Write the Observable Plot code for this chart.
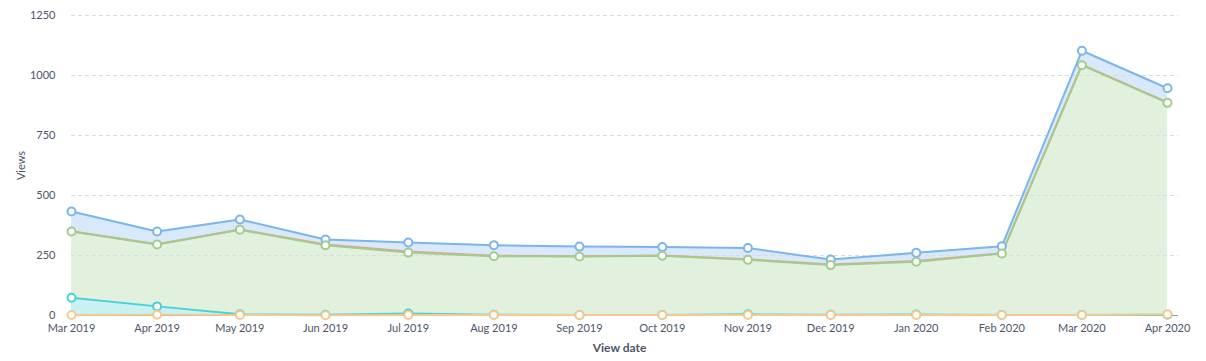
<!DOCTYPE html>
<html>
<head>
<meta charset="utf-8">
<script src="https://cdn.jsdelivr.net/npm/d3@7"></script>
<script src="https://cdn.jsdelivr.net/npm/@observablehq/plot@0.6"></script>
<style>
  html, body { margin: 0; padding: 0; background: #fff; }
  #chart svg { display: block; }
</style>
</head>
<body>
<div id="chart"></div>
<script>
const months = ["2019-03","2019-04","2019-05","2019-06","2019-07","2019-08","2019-09","2019-10","2019-11","2019-12","2020-01","2020-02","2020-03","2020-04"];
const blueValues   = [433, 350, 400, 317, 304, 293, 287, 285, 281, 233, 261, 289, 1103, 947];
const redValues    = [351, 297, 358, 296, 267, 249, 247, 250, 234, 213, 227, 259, 1045, 888];
const greenValues  = [350, 296, 357, 293, 262, 247, 246, 249, 232, 210, 224, 258, 1043, 886];
const tealValues   = [74, 38, 5, 3, 8, 3, 2, 2, 5, 3, 4, 2, 2, 3];
const orangeValues = [2, 3, 2, 1, 2, 2, 2, 2, 2, 2, 2, 2, 2, 5];
const yTicks = [0, 250, 500, 750, 1000, 1250];

const dates = months.map(m => new Date(m + "-01T00:00:00Z"));
const mk = (vals) => dates.map((d, i) => ({date: d, v: vals[i]}));
const blue = mk(blueValues), red = mk(redValues), green = mk(greenValues), teal = mk(tealValues), orange = mk(orangeValues);

const C = {
  blue: "#7cb5ec", blueFill: "#d7e9fb",
  green: "#a2cb8c", greenFill: "#e2f0de",
  red: "#f0a08a",
  teal: "#48d2d6", tealFill: "#c9f1f3",
  orange: "#f5c98f"
};
const font = "Lato, 'Open Sans', sans-serif";

const series = [
  {data: blue, color: C.blue},
  {data: red, color: C.red},
  {data: green, color: C.green},
  {data: teal, color: C.teal},
  {data: orange, color: C.orange}
];

const plot = Plot.plot({
  width: 1206,
  height: 361,
  marginTop: 15,
  marginBottom: 46,
  marginLeft: 71,
  marginRight: 39,
  style: {fontFamily: font, fontSize: "11px", color: "#4d5468", background: "#fff"},
  x: {type: "utc", domain: [dates[0], dates[dates.length - 1]]},
  y: {domain: [0, 1250]},
  marks: [
    Plot.areaY(blue, {x: "date", y: "v", fill: C.blueFill, curve: "linear"}),
    Plot.areaY(red, {x: "date", y: "v", fill: C.greenFill}),
    Plot.areaY(green, {x: "date", y: "v", fill: C.greenFill}),
    Plot.areaY(teal, {x: "date", y: "v", fill: C.tealFill}),
    Plot.ruleY(yTicks.filter(t => t > 0), {stroke: "#d5dce4", strokeDasharray: "4,3", insetRight: -11}),
    Plot.ruleY([0], {stroke: "#8e96a8", strokeWidth: 1, insetRight: -11}),
    ...series.map(s => Plot.lineY(s.data, {x: "date", y: "v", stroke: s.color, strokeWidth: 2})),
    ...series.filter(s => s.color !== C.red).map(s => Plot.dot(s.data, {x: "date", y: "v", r: 4, stroke: s.color, strokeWidth: 2, fill: "#fff"})),
    Plot.axisX({ticks: dates, tickFormat: d3.utcFormat("%b %Y"), tickSize: 0, tickPadding: 9, label: "View date", labelAnchor: "center", labelOffset: 36, labelArrow: "none", fontSize: 11}),
    Plot.axisY({ticks: yTicks, tickFormat: d => String(d), tickSize: 0, tickPadding: 16, label: "Views", labelAnchor: "center", labelOffset: 54, labelArrow: "none"})
  ]
});
document.getElementById("chart").appendChild(plot);
const xl = plot.querySelector("g[aria-label='x-axis label']");
if (xl) { xl.setAttribute("font-weight", "bold"); xl.setAttribute("font-size", "12"); }
</script>
</body>
</html>
